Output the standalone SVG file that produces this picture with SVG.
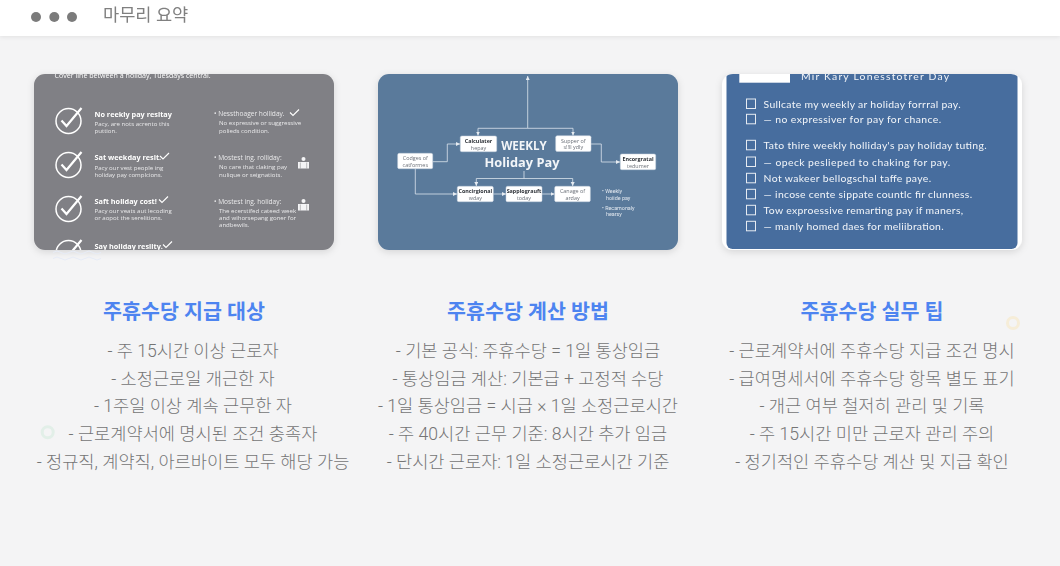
<svg xmlns="http://www.w3.org/2000/svg" width="1060" height="566" viewBox="0 0 1060 566">
<style>
text{font-family:Roboto,"Noto Sans CJK KR","Noto Sans",sans-serif}
.ttl{font-size:20.6px;font-weight:700;fill:#4d84f0;text-anchor:middle}
.li{font-size:17.6px;font-weight:300;fill:#757575;text-anchor:middle}
.a{font-family:"Open Sans",sans-serif;fill:#fff}
.h{font-size:7.3px;font-weight:700}
.s{font-size:6.1px;fill:#e8e8ea}
.r{font-size:6.6px;fill:#e8e8ea}
.bx rect{fill:#fff;stroke:#c9d3de;stroke-width:.5}
.bt{font-family:"Open Sans",sans-serif;font-size:5.4px;fill:#6b7078;text-anchor:middle}
.bb{font-weight:700;fill:#2e3238}
.cn{fill:none;stroke:#dbe3ec;stroke-width:.8}
.t3{font-family:Lato,sans-serif;font-size:10.4px;fill:#f2f5f9}
.cb{fill:none;stroke:#e6ebf2;stroke-width:1}
</style>
<defs>
<clipPath id="c1"><rect x="34" y="74" width="300" height="176" rx="11"/></clipPath>
<clipPath id="c3"><rect x="722" y="74" width="300" height="176" rx="11"/></clipPath>
<filter id="sh" x="-10%" y="-10%" width="120%" height="125%"><feDropShadow dx="0" dy="2" stdDeviation="3.5" flood-color="#000" flood-opacity=".13"/></filter>
<filter id="bl"><feGaussianBlur stdDeviation=".35"/></filter>
<filter id="hs" x="-2%" y="-20%" width="104%" height="160%"><feDropShadow dx="0" dy="1" stdDeviation="2" flood-color="#000" flood-opacity=".08"/></filter>
<marker id="ar" markerWidth="5" markerHeight="5" refX="4" refY="2" orient="auto" markerUnits="userSpaceOnUse"><path d="M0 0L4 2L0 4Z" fill="#e6ebf1"/></marker>
<g id="ck"><circle cx="0" cy="0" r="12.500" fill="none" stroke="#fff" stroke-width="1.500"/><path d="M-7 -.5L-2 5L13 -13" fill="none" stroke="#fff" stroke-width="2.200"/></g>
<path id="mk" d="M0 3L3 6L9 0" fill="none" stroke="#fff" stroke-width="1.100"/>
<g id="pr" fill="#f4f4f6"><circle cx="5.500" cy="2" r="2"/><path d="M0 5H11V11.500H0Z"/><path d="M2.300 5.500V11.500M8.700 5.500V11.500" stroke="#808085" stroke-width=".5"/></g>
</defs>
<rect width="1060" height="566" fill="#f4f4f5"/>
<g id="header">
<rect width="1060" height="36" fill="#fff" filter="url(#hs)"/>
<circle cx="36" cy="17" r="5" fill="#7b7b7b"/><circle cx="54.300" cy="17" r="5" fill="#7b7b7b"/><circle cx="72" cy="17" r="5" fill="#7b7b7b"/>
<text x="103" y="20.500" font-size="17.600" fill="#808080" filter="url(#bl)">마무리 요약</text>
</g>
<g id="card1">
<rect x="34" y="74" width="300" height="176" rx="11" fill="#808085" filter="url(#sh)"/>
<g clip-path="url(#c1)"><g filter="url(#bl)">
<text class="a" x="54.500" y="77.500" font-size="7.100" fill="#e8e8ea">Cover line between a holiday, Tuesdays central.</text>
<use href="#ck" x="68.500" y="121"/><use href="#ck" x="68.500" y="165"/><use href="#ck" x="68.500" y="209"/><use href="#ck" x="68.500" y="253"/>
<text class="a h" x="94.500" y="116.500">No reekly pay resitay</text>
<text class="a s" x="94.500" y="126">Pacy, are nots acrento this</text><text class="a s" x="94.500" y="133">puttion.</text>
<text class="a h" x="94.500" y="160">Sat weekday resit.</text><use href="#mk" x="160" y="153"/>
<text class="a s" x="94.500" y="169.500">Pacy our vest people ing</text><text class="a s" x="94.500" y="177">holiday pay complcions.</text>
<text class="a h" x="94.500" y="203.500">Saft holiday cost!</text><use href="#mk" x="159" y="196.500"/>
<text class="a s" x="94.500" y="213">Pacy our veats aut lecoding</text><text class="a s" x="94.500" y="220">or aopot the serelitions.</text>
<text class="a h" x="94.500" y="248.500">Say holiday resiity.</text><use href="#mk" x="163" y="241.500"/>
<text class="a r" x="214" y="116">• Nessthoager holliday.</text><use href="#mk" x="290" y="109.500"/>
<text class="a s" x="219" y="125">No expressive or suggressive</text><text class="a s" x="219" y="133">polieds condition.</text>
<text class="a r" x="214" y="160">• Mostest ing. rolliday:</text>
<text class="a s" x="219" y="169">No care that claking pay</text><text class="a s" x="219" y="176.500">nulique or seignatiots.</text>
<use href="#pr" x="298" y="157"/>
<text class="a r" x="214" y="204">• Mostest ing. holiday:</text>
<text class="a s" x="219" y="212.500">The ecerstifed cateed week</text><text class="a s" x="219" y="219.500">and wihorsepang goner for</text><text class="a s" x="219" y="227">andbewils.</text>
<use href="#pr" x="298" y="199"/>
</g></g>
<path d="M53 252.500q4-3 8 0t8 0t8 0t8 0t8 0t8 0M53 258.500q4-3 8 0t8 0t8 0t8 0t8 0t8 0" fill="none" stroke="#e6ebf6" stroke-width="1"/>
</g>
<g id="card2">
<rect x="378" y="74" width="300" height="176" rx="11" fill="#5a7a9b" filter="url(#sh)"/>
</g>
<g id="connectors" filter="url(#bl)">
<path class="cn" marker-end="url(#ar)" d="M527.700 128.300V76"/>
<path class="cn" marker-end="url(#ar)" d="M527.700 128.300H478V135.500"/>
<path class="cn" marker-end="url(#ar)" d="M527.700 128.300H573V135.500"/>
<path class="cn" marker-end="url(#ar)" d="M591 144H601.300V162H620"/>
<path class="cn" marker-end="url(#ar)" d="M432.700 161.700H447.300V144H460"/>
<path class="cn" marker-end="url(#ar)" d="M415.300 168.700V194H457"/>
<path class="cn" marker-end="url(#ar)" d="M493.300 194H506"/>
<path class="cn" marker-end="url(#ar)" d="M542 194H554.500"/>
<path class="cn" marker-end="url(#ar)" d="M524 171V178.500H476.300V186"/>
<path class="cn" marker-end="url(#ar)" d="M524 178.500H572.700V186"/>
</g>
<g filter="url(#bl)">
<g id="n-title"><text x="524" y="150" font-size="11.600" font-weight="700" fill="#f2f5f8" text-anchor="middle" style="font-family:'Open Sans',sans-serif">WEEKLY</text><text x="522" y="166.500" font-size="12.800" font-weight="700" fill="#f2f5f8" text-anchor="middle" style="font-family:'Open Sans',sans-serif">Holiday Pay</text></g>
<g id="n-calc" class="bx"><rect x="460.300" y="136" width="36.400" height="15.700" rx="1.500"/><text class="bt bb" x="478.500" y="143">Calculater</text><text class="bt" x="478.500" y="149.500">hepay</text></g>
<g id="n-supper" class="bx"><rect x="555.700" y="135.700" width="35.300" height="15.700" rx="1.500"/><text class="bt" x="573.300" y="142.500">Supper of</text><text class="bt" x="573.300" y="149">s!!ll ydly</text></g>
<g id="n-enc" class="bx"><rect x="620.300" y="154" width="35.400" height="15.700" rx="1.500"/><text class="bt bb" x="638" y="161">Encorgratal</text><text class="bt" x="638" y="167.500">tedumer</text></g>
<g id="n-codges" class="bx"><rect x="397.700" y="153.300" width="35" height="15.400" rx="1.500"/><text class="bt" x="415.300" y="160">Codges of</text><text class="bt" x="415.300" y="166.500">catformes</text></g>
<g id="n-conc" class="bx"><rect x="457.300" y="186.300" width="36" height="15.400" rx="1.500"/><text class="bt bb" x="475.300" y="193">Concirgional</text><text class="bt" x="475.300" y="199.500">wday</text></g>
<g id="n-sapp" class="bx"><rect x="506" y="186.300" width="36" height="15.400" rx="1.500"/><text class="bt bb" x="524" y="193">Sapplograuft</text><text class="bt" x="524" y="199.500">today</text></g>
<g id="n-can" class="bx"><rect x="554.700" y="186.300" width="35.600" height="15.400" rx="1.500"/><text class="bt" x="572.500" y="193">Canage of</text><text class="bt" x="572.500" y="199.500">arday</text></g>
<g id="n-notes" fill="#e3e9f0" font-size="5.400" style="font-family:'Open Sans',sans-serif"><text x="602" y="192.500">• Weekly</text><text x="606" y="199.500">hoiide pay</text><text x="602" y="209.500">• Recamonaly</text><text x="606" y="216">hearsy</text></g>
</g>
<g id="card3">
<rect x="722" y="74" width="300" height="176" rx="11" fill="#fff" filter="url(#sh)"/>
<g clip-path="url(#c3)"><rect x="726.500" y="70" width="291" height="179" rx="6" fill="#476d9e"/>
<g filter="url(#bl)">
<rect x="739.300" y="70" width="50.700" height="12.700" fill="#fff"/>
<text class="t3" x="801" y="79.500" font-size="11" textLength="148">Mir Kary Lonesstotrer Day</text>
<g><rect class="cb" x="746.500" y="99" width="9" height="9.500"/><rect class="cb" x="746.500" y="114.300" width="9" height="9.500"/><rect class="cb" x="746.500" y="140.300" width="9" height="9.500"/><rect class="cb" x="746.500" y="157" width="9" height="9.500"/><rect class="cb" x="746.500" y="173.300" width="9" height="9.500"/><rect class="cb" x="746.500" y="189.300" width="9" height="9.500"/><rect class="cb" x="746.500" y="205.300" width="9" height="9.500"/><rect class="cb" x="746.500" y="221.300" width="9" height="9.500"/></g>
<text class="t3" x="763.600" y="107.500" textLength="197">Sullcate my weekly ar holiday forrral pay.</text>
<text class="t3" x="763.600" y="122.800" textLength="177.500">— no expressiver for pay for chance.</text>
<text class="t3" x="763.600" y="148.800" textLength="223">Tato thire weekly holliday's pay holiday tuting.</text>
<text class="t3" x="763.600" y="165.500" textLength="186.500">— opeck peslieped to chaking for pay.</text>
<text class="t3" x="763.600" y="181.800" textLength="167.500">Not wakeer bellogschal taffe paye.</text>
<text class="t3" x="763.600" y="197.800" textLength="208.500">— incose cente sippate countlc fir clunness.</text>
<text class="t3" x="763.600" y="213.800" textLength="199.500">Tow exproessive remarting pay if maners,</text>
<text class="t3" x="763.600" y="229.800" textLength="180">— manly homed daes for meliibration.</text>
</g></g>
</g>
<g id="col1">
<text class="ttl" x="184" y="319">주휴수당 지급 대상</text>
<text class="li" x="193" y="357">- 주 15시간 이상 근로자</text>
<text class="li" x="193" y="384.500">- 소정근로일 개근한 자</text>
<text class="li" x="193" y="412">- 1주일 이상 계속 근무한 자</text>
<text class="li" x="193" y="440">- 근로계약서에 명시된 조건 충족자</text>
<text class="li" x="193" y="467.500">- 정규직, 계약직, 아르바이트 모두 해당 가능</text>
</g>
<g id="col2">
<text class="ttl" x="528" y="319">주휴수당 계산 방법</text>
<text class="li" x="528" y="357">- 기본 공식: 주휴수당 = 1일 통상임금</text>
<text class="li" x="528" y="384.500">- 통상임금 계산: 기본급 + 고정적 수당</text>
<text class="li" x="528" y="412">- 1일 통상임금 = 시급 × 1일 소정근로시간</text>
<text class="li" x="528" y="440">- 주 40시간 근무 기준: 8시간 추가 임금</text>
<text class="li" x="528" y="467.500">- 단시간 근로자: 1일 소정근로시간 기준</text>
</g>
<g id="col3">
<text class="ttl" x="872" y="319">주휴수당 실무 팁</text>
<text class="li" x="872" y="357">- 근로계약서에 주휴수당 지급 조건 명시</text>
<text class="li" x="872" y="384.500">- 급여명세서에 주휴수당 항목 별도 표기</text>
<text class="li" x="872" y="412">- 개근 여부 철저히 관리 및 기록</text>
<text class="li" x="872" y="440">- 주 15시간 미만 근로자 관리 주의</text>
<text class="li" x="872" y="467.500">- 정기적인 주휴수당 계산 및 지급 확인</text>
</g>
<g id="decor" fill="none" stroke-width="3"><circle cx="47.700" cy="432.300" r="5.500" stroke="#e2efe8"/><circle cx="1013" cy="323" r="5.500" stroke="#f6edd8"/></g>
</svg>
